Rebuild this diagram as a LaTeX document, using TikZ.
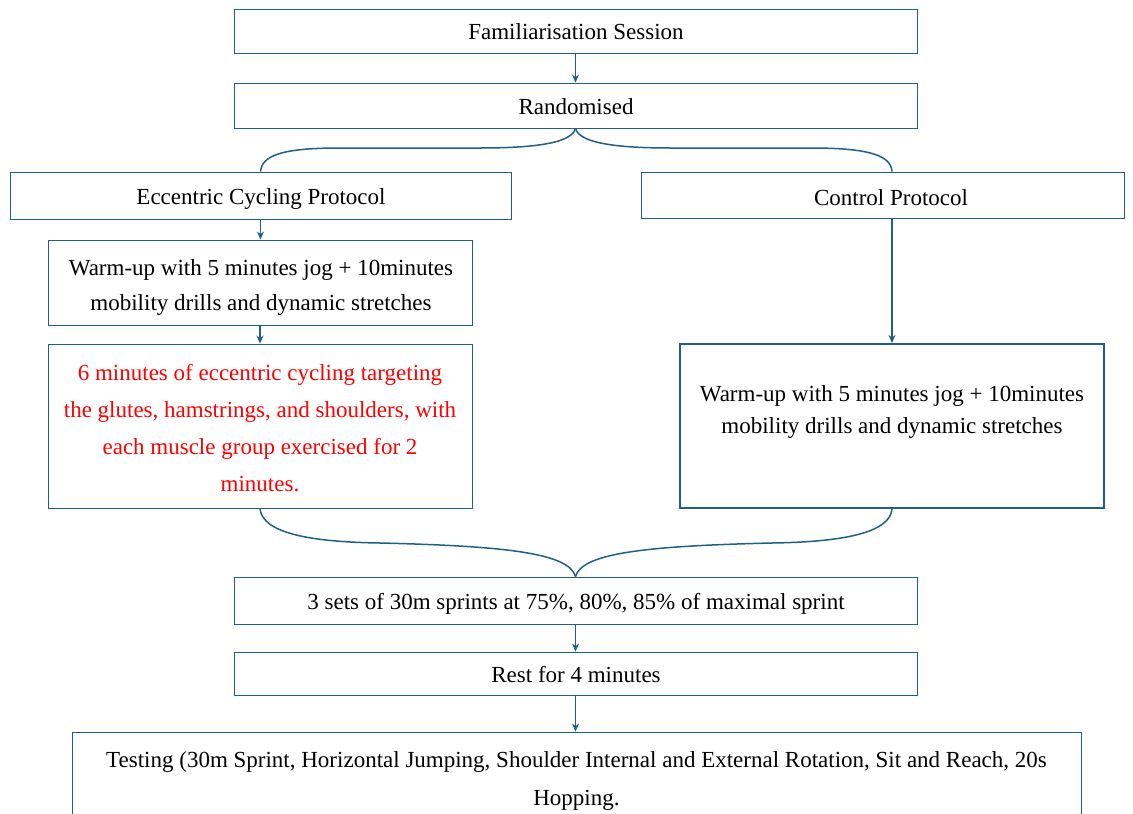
\documentclass[tikz,border=0pt]{standalone}
\usepackage{fontspec}
\setmainfont{Liberation Serif}
\usetikzlibrary{arrows.meta}
\definecolor{edge}{RGB}{31,96,135}
\definecolor{redtxt}{RGB}{255,0,0}
\begin{document}
\begin{tikzpicture}[x=1pt,y=-1pt,
  box/.style={draw=edge, line width=0.9pt, inner sep=0pt},
  txt/.style={inner sep=0pt, align=center, font=\fontsize{23}{35}\selectfont},
  arr/.style={draw=edge, line width=1.2pt, -{Stealth[length=8pt,width=7pt]}},
  brace/.style={draw=edge, line width=1.5pt}]
\useasboundingbox (0,0) rectangle (1133,814);
\clip (0,0) rectangle (1133,814);

\node[box, minimum width=683pt, minimum height=44pt] (fam) at (575.5,31) {};
\node[txt] (famt) at (576,32) {Familiarisation Session};
\node[box, minimum width=683pt, minimum height=45pt] (rand) at (575.5,105.5) {};
\node[txt] (randt) at (576,107) {Randomised};
\node[box, minimum width=501pt, minimum height=47pt] (ecc) at (260.5,195.5) {};
\node[txt] (ecct) at (261,199) {Eccentric Cycling Protocol};
\node[box, minimum width=483pt, minimum height=46pt] (ctrl) at (882.5,195) {};
\node[txt] (ctrlt) at (891,198) {Control Protocol};
\node[box, minimum width=424pt, minimum height=85pt] (wu1) at (260,282.5) {};
\node[txt] (wu1t) at (261,287) {Warm-up with 5 minutes jog + 10minutes\\mobility drills and dynamic stretches};
\node[box, minimum width=424pt, minimum height=164pt] (ecy) at (260,426) {};
\node[txt, text=redtxt, font=\fontsize{23}{37}\selectfont] (ecyt) at (260,428) {6 minutes of eccentric cycling targeting\\the glutes, hamstrings, and shoulders, with\\each muscle group exercised for 2\\minutes.};
\node[box, line width=2pt, minimum width=424pt, minimum height=164pt] (wu2) at (892,426) {};
\node[txt, font=\fontsize{23}{32}\selectfont] (wu2t) at (892,412) {Warm-up with 5 minutes jog + 10minutes\\mobility drills and dynamic stretches};
\node[box, minimum width=683pt, minimum height=47pt] (sets) at (575.5,600.5) {};
\node[txt] (setst) at (576,604) {3 sets of 30m sprints at 75\%, 80\%, 85\% of maximal sprint};
\node[box, minimum width=683pt, minimum height=43pt] (rest) at (575.5,673.5) {};
\node[txt] (restt) at (576,675) {Rest for 4 minutes};
\node[box, minimum width=1009pt, minimum height=118pt] (test) at (576.5,791) {};
\node[txt, font=\fontsize{23}{38}\selectfont] (testt) at (576.5,781) {Testing (30m Sprint, Horizontal Jumping, Shoulder Internal and External Rotation, Sit and Reach, 20s\\Hopping.};

\coordinate (rtop) at (wu2.north |- ctrl.north);
\coordinate (rbot) at (wu2.south);

\draw[arr] (fam.south) -- (rand.north);
\draw[arr] (ecc.south) -- (ecc.south |- wu1.north);
\draw[arr] (wu1.south) -- (ecy.north);
\draw[arr] (ctrl.south -| wu2.north) -- (wu2.north);
\draw[arr] (sets.south) -- (rest.north);
\draw[arr] (rest.south) -- (rest.south |- test.north);

% top brace
\draw[brace] (rand.south) .. controls (572,141) and (545,148) .. (480,148) -- (340,148) .. controls (280,148) and (262,156) .. (ecc.north);
\draw[brace] (rand.south) .. controls (579,141) and (606,148) .. (671,148) -- (811,148) .. controls (871,148) and (891,156) .. (rtop);

% bottom brace
\draw[brace] (ecy.south) .. controls (262,533) and (310,542) .. (380,543) .. controls (505,546) and (569,553) .. (sets.north);
\draw[brace] (rbot) .. controls (890,533) and (842,542) .. (772,543) .. controls (646,546) and (582,553) .. (sets.north);
\end{tikzpicture}
\end{document}
